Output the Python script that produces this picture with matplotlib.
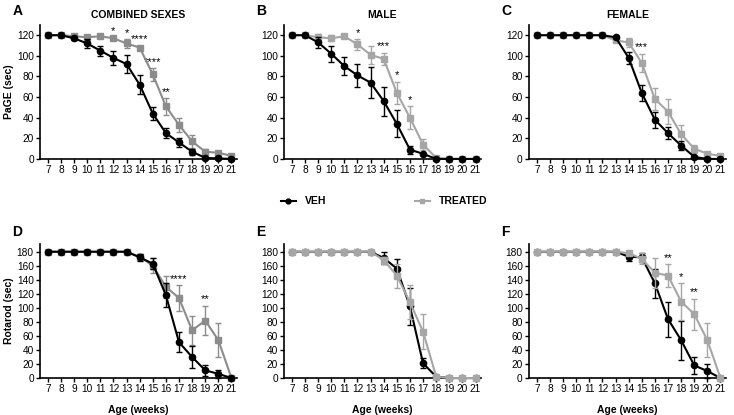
import numpy as np
import matplotlib.pyplot as plt
from matplotlib.lines import Line2D

plt.rcParams['font.family'] = ['Liberation Sans', 'DejaVu Sans']

weeks = np.arange(7, 22)

# PaGE (sec)
veh_A = [120, 120, 117, 112, 105, 98, 92, 72, 44, 25, 16, 7, 1, 0.5, 0]
veh_A_err = [1, 1, 2, 4, 5, 7, 9, 9, 6, 5, 4, 3, 1, 1, 1]
trt_A = [120, 120, 119, 118, 119, 117, 112, 108, 82, 51, 33, 17, 7, 6, 3]
trt_A_err = [1, 1, 2, 2, 1, 1, 4, 2, 6, 8, 7, 6, 3, 2, 2]
stars_A = {12: '*', 13: '*', 14: '****', 15: '****', 16: '**'}

veh_B = [120, 120, 113, 102, 90, 81, 74, 56, 34, 9, 5, 0, 0, 0, 0]
veh_B_err = [1, 1, 5, 8, 9, 11, 15, 14, 13, 4, 1, 0, 0, 0, 0]
trt_B = [120, 120, 118, 117, 119, 111, 101, 97, 64, 40, 14, 1, 0, 0, 0]
trt_B_err = [1, 1, 3, 3, 1, 5, 9, 6, 11, 11, 5, 1, 0, 0, 0]
stars_B = {12: '*', 14: '***', 15: '*', 16: '*'}

veh_C = [120, 120, 120, 120, 120, 120, 118, 98, 64, 38, 25, 13, 2, 0, 0]
veh_C_err = [0, 0, 0, 0, 0, 0, 1, 6, 8, 8, 6, 4, 1, 0, 0]
trt_C = [120, 120, 120, 120, 120, 120, 115, 113, 93, 58, 46, 24, 10, 5, 3]
trt_C_err = [0, 0, 0, 0, 0, 0, 2, 4, 9, 11, 12, 9, 4, 2, 2]
stars_C = {15: '***'}

# Rotarod (sec)
veh_D = [180, 180, 180, 180, 180, 180, 180, 172, 163, 118, 51, 30, 11, 6, 0]
veh_D_err = [0, 0, 0, 0, 0, 0, 0, 5, 8, 17, 14, 16, 8, 6, 0]
trt_D = [180, 180, 180, 180, 180, 180, 180, 173, 160, 130, 114, 68, 82, 54, 0]
trt_D_err = [0, 0, 0, 0, 0, 0, 0, 4, 11, 16, 18, 21, 21, 24, 0]
stars_D = {17: '****', 19: '**'}

veh_E = [180, 180, 180, 180, 180, 180, 180, 171, 156, 102, 21, 2, 0, 0, 0]
veh_E_err = [0, 0, 0, 0, 0, 0, 0, 9, 13, 26, 7, 1, 0, 0, 0]
trt_E = [180, 180, 180, 180, 180, 180, 180, 168, 146, 108, 66, 2, 0, 0, 0]
trt_E_err = [0, 0, 0, 0, 0, 0, 0, 5, 17, 24, 25, 1, 0, 0, 0]
stars_E = {}

veh_F = [180, 180, 180, 180, 180, 180, 180, 173, 172, 135, 84, 54, 18, 10, 0]
veh_F_err = [0, 0, 0, 0, 0, 0, 0, 6, 6, 21, 25, 28, 12, 10, 0]
trt_F = [180, 180, 180, 180, 180, 180, 180, 178, 170, 150, 146, 109, 91, 54, 0]
trt_F_err = [0, 0, 0, 0, 0, 0, 0, 3, 8, 21, 16, 26, 22, 24, 0]
stars_F = {17: '**', 18: '*', 19: '**'}

panels = [
    ('A', 'COMBINED SEXES', veh_A, veh_A_err, trt_A, trt_A_err, stars_A, '#8c8c8c', False),
    ('B', 'MALE', veh_B, veh_B_err, trt_B, trt_B_err, stars_B, '#a6a6a6', False),
    ('C', 'FEMALE', veh_C, veh_C_err, trt_C, trt_C_err, stars_C, '#a6a6a6', False),
    ('D', '', veh_D, veh_D_err, trt_D, trt_D_err, stars_D, '#8c8c8c', False),
    ('E', '', veh_E, veh_E_err, trt_E, trt_E_err, stars_E, '#a6a6a6', True),
    ('F', '', veh_F, veh_F_err, trt_F, trt_F_err, stars_F, '#a6a6a6', True),
]

fig = plt.figure(figsize=(7.34, 4.15), dpi=100)
lefts = [0.0545, 0.387, 0.7207]
bottoms = [0.617, 0.089]
w, h = 0.268, 0.323

for i, (letter, title, veh, veh_err, trt, trt_err, stars, gcol, trt_top) in enumerate(panels):
    row, col = i // 3, i % 3
    ax = fig.add_axes([lefts[col], bottoms[row], w, h])
    z_veh, z_trt = (3, 4) if trt_top else (4, 3)
    ax.errorbar(weeks, trt, yerr=trt_err, color=gcol, marker='s', ms=4.3, lw=1.5,
                capsize=2.5, elinewidth=1, capthick=1, zorder=z_trt, clip_on=False)
    ax.errorbar(weeks, veh, yerr=veh_err, color='black', marker='o', ms=4.5, lw=1.5,
                capsize=2.5, elinewidth=1, capthick=1, zorder=z_veh, clip_on=False)
    for wk, s in stars.items():
        k = wk - 7
        ax.annotate(s, (wk, trt[k] + trt_err[k]), xytext=(0, 1), textcoords='offset points',
                    ha='center', va='bottom', fontsize=8)
    ax.set_xlim(6.4, 21.4)
    ax.set_xticks(weeks)
    if row == 0:
        ax.set_ylim(0, 130)
        ax.set_yticks(np.arange(0, 121, 20))
    else:
        ax.set_ylim(0, 191)
        ax.set_yticks(np.arange(0, 181, 20))
        ax.set_xlabel('Age (weeks)', fontsize=7.5, fontweight='bold', labelpad=8)
    for sp in ['top', 'right']:
        ax.spines[sp].set_visible(False)
    ax.spines['left'].set_linewidth(1.2)
    ax.spines['bottom'].set_linewidth(1.2)
    ax.tick_params(labelsize=7.3, length=3, width=1, pad=1.5)
    if title:
        ax.set_title(title, fontsize=7.5, fontweight='bold', pad=5)
    ax.text(-0.14, 1.10 if row == 0 else 1.09, letter, transform=ax.transAxes,
            fontsize=10, fontweight='bold', ha='left', va='center')
    if i == 0:
        ax.set_ylabel('PaGE (sec)', fontsize=7.5, fontweight='bold', labelpad=2)
    if i == 3:
        ax.set_ylabel('Rotarod (sec)', fontsize=7.5, fontweight='bold', labelpad=2)

# legend
handles = [Line2D([], [], color='black', marker='o', ms=3.5, lw=1.5),
           Line2D([], [], color='#a6a6a6', marker='s', ms=3.5, lw=1.5)]
fig.legend(handles, ['VEH', 'TREATED'], loc='center', bbox_to_anchor=(0.523, 0.515),
           ncol=2, frameon=False, prop={'weight': 'bold', 'size': 7.5},
           columnspacing=8.5, handlelength=1.5)

fig.savefig('out.png', dpi=100)
